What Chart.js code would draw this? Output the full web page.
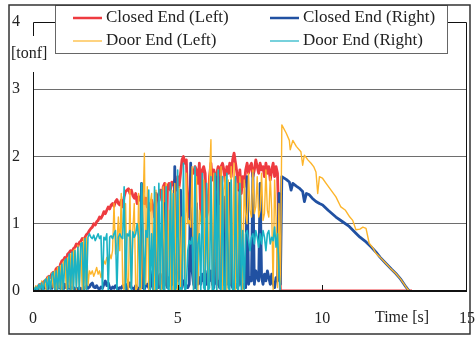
<!DOCTYPE html>
<html>
<head>
<meta charset="utf-8">
<script src="https://cdn.jsdelivr.net/npm/chart.js@4.4.1/dist/chart.umd.min.js"></script>
<style>
  html, body { margin: 0; padding: 0; background: #fff; }
  canvas { display: block; }
</style>
</head>
<body>
<canvas id="chart" width="476" height="338"></canvas>
<script>
const seriesNames = ['Closed End (Left)', 'Closed End (Right)', 'Door End (Left)', 'Door End (Right)'];
const xTickValues = [0, 5, 10, 15];
const yTickValues = [0, 1, 2, 3, 4];

const red = '#EE3B40';
const blue = '#2151A2';
const yellow = '#FDB52B';
const cyan = '#1BB3C4';

// sampled time [s] for the loading phase
const spikeTime = [
  0, 0.05, 0.1, 0.15, 0.2, 0.25, 0.3, 0.35, 0.4, 0.45, 0.5, 0.55, 0.6, 0.65, 0.7, 0.75, 0.8, 0.85, 0.9, 0.95,
  1, 1.05, 1.1, 1.15, 1.2, 1.25, 1.3, 1.35, 1.4, 1.45, 1.5, 1.55, 1.6, 1.65, 1.7, 1.75, 1.8, 1.85, 1.9, 1.95,
  2, 2.05, 2.1, 2.15, 2.2, 2.25, 2.3, 2.35, 2.4, 2.45, 2.5, 2.55, 2.6, 2.65, 2.7, 2.75, 2.8, 2.85, 2.9, 2.95,
  3, 3.05, 3.1, 3.15, 3.2, 3.25, 3.3, 3.35, 3.4, 3.45, 3.5, 3.55, 3.6, 3.65, 3.7, 3.75, 3.8, 3.85, 3.9, 3.95,
  4, 4.05, 4.1, 4.15, 4.2, 4.25, 4.3, 4.35, 4.4, 4.45, 4.5, 4.55, 4.6, 4.65, 4.7, 4.75, 4.8, 4.85, 4.9, 4.95,
  5, 5.05, 5.1, 5.15, 5.2, 5.25, 5.3, 5.35, 5.4, 5.45, 5.5, 5.55, 5.6, 5.65, 5.7, 5.75, 5.8, 5.85, 5.9, 5.95,
  6, 6.05, 6.1, 6.15, 6.2, 6.25, 6.3, 6.35, 6.4, 6.45, 6.5, 6.55, 6.6, 6.65, 6.7, 6.75, 6.8, 6.85, 6.9, 6.95,
  7, 7.05, 7.1, 7.15, 7.2, 7.25, 7.3, 7.35, 7.4, 7.45, 7.5, 7.55, 7.6, 7.65, 7.7, 7.75, 7.8, 7.85, 7.9, 7.95,
  8, 8.05, 8.1, 8.15, 8.2, 8.25, 8.3, 8.35, 8.4, 8.45, 8.5, 8.55
];

// [tonf]
const closedLeft = [
  0, 0.02, 0.04, 0.05, 0.08, 0.1, 0.09, 0.13, 0.15, 0.14, 0.2, 0.22, 0.2, 0.26, 0.28, 0.27, 0.33, 0.35, 0.3, 0.4,
  0.45, 0.46, 0.5, 0.48, 0.55, 0.57, 0.6, 0.58, 0.63, 0.65, 0.7, 0.66, 0.72, 0.74, 0.78, 0.76, 0.8, 0.84, 0.86, 0.9,
  0.93, 0.95, 1.0, 0.98, 1.03, 1.05, 1.1, 1.08, 1.12, 1.18, 1.15, 1.2, 1.25, 1.22, 1.28, 1.3, 1.26, 1.33, 1.36, 1.3,
  1.28, 1.35, 1.25, 1.4, 1.48, 1.5, 1.52, 1.45, 1.5, 1.42, 1.38, 1.45, 1.3, 1.4, 1.35, 1.45, 1.42, 1.3, 1.38, 1.25,
  1.3, 1.2, 1.35, 1.25, 1.1, 1.3, 1.4, 1.45, 1.5, 1.35, 1.55, 1.6, 0.3, 1.55, 1.6, 1.5, 1.62, 1.58, 1.65, 1.5,
  1.7, 1.55, 1.75, 1.95, 2.0, 1.9, 1.95, 1.2, 1.1, 1.7, 1.8, 1.75, 1.85, 1.8, 1.6, 1.9, 1.05, 1.8, 1.85, 1.75,
  1.1, 1.2, 1.7, 1.9, 1.65, 1.8, 1.5, 1.75, 1.85, 1.3, 1.85, 1.9, 1.8, 1.6, 1.85, 1.75, 1.9, 1.7, 1.95, 2.05,
  1.9, 1.75, 1.5, 1.8, 1.45, 1.7, 1.55, 1.8, 1.9, 1.75, 1.85, 1.9, 1.7, 1.8, 1.95, 1.85, 1.75, 1.9, 1.8, 1.85,
  1.7, 1.9, 1.75, 1.85, 1.65, 1.8, 1.9, 1.7, 1.85, 1.75, 0.9, 0
];
const closedRight = [
  0, 0.02, 0.03, 0.05, 0.02, 0.06, 0.04, 0.02, 0.08, 0.05, 0.03, 0.1, 0.05, 0.04, 0.12, 0.06, 0.03, 0.05, 0.08, 0.04,
  0.06, 0.03, 0.1, 0.05, 0.04, 0.08, 0.03, 0.06, 0.05, 0.02, 0.04, 0.03, 0.05, 0.02, 0.04, 0.03, 0.05, 0.08, 0.04, 0.06,
  0.1, 0.12, 0.06, 0.05, 0.08, 0.04, 0.03, 0.06, 0.04, 0.1, 0.15, 0.08, 0.12, 0.05, 0.03, 0.06, 0.04, 0.08, 0.05, 0.03,
  0.05, 0.04, 0.08, 0.05, 0.1, 0.03, 0.06, 0.12, 0.05, 0.04, 0.03, 0.08, 0.05, 0.02, 0.04, 1.6, 0.05, 0.03, 0.08, 0.1,
  0.05, 0.3, 0.1, 0.04, 0.2, 1.45, 0.15, 0.05, 0.25, 0.1, 0.05, 1.3, 0.1, 0.05, 0.2, 0.08, 0.1, 0.15, 1.85, 0.3,
  0.15, 0.2, 1.5, 0.05, 0.15, 0.1, 0.08, 0.05, 0.1, 1.9, 0.3, 0.1, 0.05, 1.3, 0.1, 0.2, 0.1, 0.25, 0.15, 0.3,
  0.1, 0.25, 0.15, 0.3, 0.1, 0.05, 1.7, 0.1, 0.15, 0.05, 1.7, 0.2, 0.1, 1.4, 0.1, 0.15, 1.6, 0.1, 0.05, 0.1,
  0.05, 0.1, 0.08, 1.5, 0.1, 0.05, 0.1, 0.05, 1.7, 0.1, 0.2, 0.15, 1.75, 0.1, 0.3, 0.2, 0.15, 1.6, 0.2, 0.1,
  0.25, 0.15, 0.3, 0.2, 0.1, 0.25, 0.1, 0.05, 0.2, 0.15, 1.45, 0.1
];
const doorLeft = [
  0, 0.03, 0.08, 0.02, 0.1, 0, 0.15, 0.03, 0.17, 0.02, 0.2, 0.22, 0.03, 0.27, 0.05, 0.3, 0.02, 0.35, 0.05, 0.38,
  0.02, 0.43, 0.46, 0.03, 0.5, 0.05, 0.55, 0, 0.6, 0.62, 0.02, 0.68, 0.05, 0.72, 0, 0.78, 0.03, 0.8, 0.08, 0.3,
  0.25, 0.3, 0.22, 0.28, 0.35, 0.25, 0.3, 0.2, 0.32, 0.45, 0.4, 0.5, 0.42, 0.55, 0.48, 0.6, 1.3, 0.55, 0.7, 1.1,
  0.6, 1.45, 0.1, 0, 1.3, 0.2, 0, 1.5, 0.05, 0.9, 1.3, 0, 0.05, 1.45, 0, 0.05, 1.2, 2.05, 0.1, 1.55,
  0, 1.3, 1.45, 0.05, 0, 1.5, 0, 1.35, 0.1, 0, 1.55, 0, 1.6, 0.05, 1.2, 0, 1.5, 0, 1.6, 0.05,
  0, 1.55, 0, 1.1, 1.0, 0, 1.75, 1.0, 1.05, 0.95, 1.85, 0, 1.1, 1.7, 0, 1.2, 1.05, 0.9, 1.65, 0,
  1.5, 0, 1.7, 2.25, 0, 1.75, 1.1, 0, 1.8, 0.05, 1.85, 0, 1.5, 1.7, 0, 1.65, 0.1, 1.85, 0, 1.9,
  0, 1.6, 0.05, 1.7, 1.2, 0, 1.65, 1.15, 1.0, 1.75, 1.2, 1.1, 1.8, 1.15, 1.25, 1.7, 1.1, 1.2, 1.75, 1.05,
  1.15, 1.8, 1.2, 1.1, 1.7, 1.2, 0, 1.65, 1.1, 0.05, 1.3, 0
];
const doorRight = [
  0, 0.02, 0.06, 0, 0.1, 0.03, 0.12, 0, 0.15, 0.18, 0.02, 0.22, 0, 0.25, 0.28, 0.02, 0.3, 0, 0.36, 0.02,
  0.4, 0, 0.45, 0.48, 0.02, 0.55, 0, 0.58, 0, 0.6, 0.05, 0.65, 0.02, 0.7, 0.72, 0, 0.78, 0.02, 0.8, 0.85,
  0.8, 0.78, 0.83, 0.75, 0.8, 0.85, 0.78, 0.82, 0, 0.8, 0.76, 0.85, 0.02, 0.8, 0.82, 0.78, 0.85, 0.9, 0, 0.8,
  0.85, 0.8, 0.78, 1.55, 0, 0.85, 0.82, 0.9, 0, 0.88, 0.8, 0.85, 1.0, 0.8, 0.05, 1.6, 0.85, 0, 0.9, 0.8,
  1.5, 0, 0.85, 0.02, 1.55, 0, 0.05, 1.6, 0, 1.5, 0.02, 0, 1.55, 0.05, 0, 1.6, 0.02, 1.45, 0, 0.05,
  1.8, 0, 0.05, 0.02, 1.9, 0, 0.05, 0.6, 0.75, 0.7, 0.8, 0.02, 1.85, 0, 0.7, 0.85, 0, 1.75, 0.05, 0,
  1.6, 0, 0.05, 1.7, 0, 0.02, 1.75, 0, 1.8, 0.05, 0, 1.7, 0.02, 0, 1.75, 0.05, 0, 1.65, 0.02, 0,
  1.7, 0.05, 0, 1.6, 0, 0.9, 0, 0.85, 0.9, 0.75, 0.6, 0.8, 0.85, 0.7, 0.9, 0.8, 0.65, 0.85, 0.7, 0.9,
  0.8, 0.6, 0.85, 0.9, 0.7, 0.8, 0.75, 0.95, 0.65, 0.85, 0.3, 0
];

// unloading phase
const closedLeftTailTime = [8.6, 13.1];
const closedLeftTail = [0, 0];
const doorRightTailTime = [8.6, 13.1];
const doorRightTail = [0, 0];
const closedRightTailTime = [8.6, 8.75, 8.86, 8.92, 8.98, 9.1, 9.2, 9.32, 9.38, 9.45, 9.55, 9.65, 9.78, 9.9, 10.01, 10.2,
  10.47, 10.7, 10.93, 11.16, 11.3, 11.51, 11.7, 11.85, 12.0, 12.2, 12.4, 12.54, 12.7, 12.89, 13.0];
const closedRightTail = [1.7, 1.66, 1.62, 1.5, 1.6, 1.56, 1.53, 1.48, 1.33, 1.45, 1.43, 1.38, 1.33, 1.3, 1.28, 1.2,
  1.1, 1.03, 0.96, 0.86, 0.8, 0.73, 0.65, 0.58, 0.5, 0.41, 0.32, 0.26, 0.18, 0.06, 0];
const doorLeftTailTime = [8.6, 8.75, 8.86, 8.89, 8.98, 9.1, 9.26, 9.32, 9.38, 9.5, 9.61, 9.7, 9.78, 9.84, 9.9, 10.0, 10.13,
  10.3, 10.47, 10.64, 10.8, 10.95, 11.05, 11.16, 11.3, 11.4, 11.51, 11.62, 11.75, 11.85, 12.0, 12.2, 12.35, 12.54, 12.7,
  12.89, 13.0, 13.1];
const doorLeftTail = [2.47, 2.35, 2.24, 2.1, 2.24, 2.15, 2.07, 1.87, 2.02, 1.95, 1.9, 1.85, 1.77, 1.45, 1.7, 1.68, 1.6,
  1.5, 1.4, 1.25, 1.2, 1.1, 1.05, 0.91, 0.92, 0.95, 0.93, 0.71, 0.64, 0.56, 0.5, 0.41, 0.34, 0.26, 0.18,
  0.06, 0, 0];

const serif = "'Liberation Serif', 'Times New Roman', serif";

function pts(times, values) {
  return times.map((t, i) => ({ x: t, y: values[i] }));
}

function series(label, color, width, order, head, tailTime, tail) {
  return {
    label: label,
    data: pts(spikeTime, head).concat(pts(tailTime, tail)),
    borderColor: color,
    backgroundColor: color,
    borderWidth: width,
    borderJoinStyle: 'round',
    pointRadius: 0,
    tension: 0,
    order: order,
  };
}

// axes frame, unit label, legend box and outer border
const frame = {
  id: 'frame',
  afterDraw(chart) {
    const { ctx, chartArea: a, scales: { x, y } } = chart;
    ctx.save();
    ctx.strokeStyle = '#111';
    ctx.lineWidth = 1;
    ctx.beginPath();
    ctx.moveTo(a.left + 0.5, a.bottom);
    ctx.lineTo(a.left + 0.5, a.top + 0.5);
    ctx.lineTo(a.right - 0.5, a.top + 0.5);
    ctx.lineTo(a.right - 0.5, a.bottom);
    ctx.stroke();

    const y0 = y.getPixelForValue(0);
    ctx.lineWidth = 2;
    ctx.beginPath();
    ctx.moveTo(a.left, y0);
    ctx.lineTo(a.right, y0);
    ctx.stroke();

    ctx.lineWidth = 1;
    ctx.beginPath();
    [5, 10].forEach(v => {
      const px = Math.round(x.getPixelForValue(v)) + 0.5;
      ctx.moveTo(px, y0);
      ctx.lineTo(px, y0 - 6);
    });
    ctx.stroke();

    ctx.font = '16px ' + serif;
    ctx.textBaseline = 'middle';
    ctx.fillStyle = '#fff';
    ctx.fillRect(10, 36, 40, 36);
    ctx.fillStyle = '#222';
    ctx.textAlign = 'left';
    ctx.fillText('[tonf]', 11, 54);
    ctx.textAlign = 'center';
    ctx.fillText('Time [s]', 402, 318);

    // legend
    ctx.fillStyle = '#fff';
    ctx.fillRect(55, 5, 392, 48);
    ctx.strokeStyle = '#666';
    ctx.strokeRect(55.5, 5.5, 392, 48);
    ctx.font = '17px ' + serif;
    const cols = [73, 270];
    const rows = [18, 41];
    chart.data.datasets.forEach((ds, i) => {
      const cx = cols[i % 2];
      const cy = rows[Math.floor(i / 2)];
      ctx.strokeStyle = ds.borderColor;
      ctx.lineWidth = i < 2 ? 2.5 : 1.2;
      ctx.beginPath();
      ctx.moveTo(cx, cy);
      ctx.lineTo(cx + 29, cy);
      ctx.stroke();
      ctx.fillStyle = '#222';
      ctx.textAlign = 'left';
      ctx.fillText(ds.label, cx + 33, cy);
    });

    ctx.strokeStyle = '#333';
    ctx.lineWidth = 1.5;
    ctx.strokeRect(9, 5, 461, 329);
    ctx.restore();
  }
};

new Chart(document.getElementById('chart'), {
  type: 'line',
  data: {
    datasets: [
      series(seriesNames[0], red, 2.8, 4, closedLeft, closedLeftTailTime, closedLeftTail),
      series(seriesNames[1], blue, 2.8, 3, closedRight, closedRightTailTime, closedRightTail),
      series(seriesNames[2], yellow, 1.4, 2, doorLeft, doorLeftTailTime, doorLeftTail),
      series(seriesNames[3], cyan, 1.6, 1, doorRight, doorRightTailTime, doorRightTail),
    ]
  },
  options: {
    responsive: false,
    animation: false,
    layout: { padding: { left: 12, top: 22, right: 9, bottom: 0 } },
    plugins: {
      legend: { display: false },
      tooltip: { enabled: false },
    },
    scales: {
      x: {
        type: 'linear',
        min: 0,
        max: 15,
        afterBuildTicks: s => { s.ticks = xTickValues.map(v => ({ value: v })); },
        afterFit: s => { s.height = 47; s.paddingLeft = 0; s.paddingRight = 0; },
        grid: { display: false },
        border: { display: false },
        ticks: {
          padding: 10,
          color: '#222',
          maxRotation: 0,
          font: { family: serif, size: 16 },
        },
      },
      y: {
        min: 0,
        max: 4,
        afterBuildTicks: s => { s.ticks = yTickValues.map(v => ({ value: v })); },
        afterFit: s => { s.width = 21; s.paddingTop = 0; s.paddingBottom = 0; },
        border: { display: false },
        grid: {
          drawTicks: false,
          lineWidth: 1,
          color: c => (c.tick.value > 0 && c.tick.value < 4) ? '#6e6e6e' : 'rgba(0,0,0,0)',
        },
        ticks: {
          crossAlign: 'far',
          padding: 0,
          color: '#222',
          font: { family: serif, size: 16 },
        },
      },
    },
  },
  plugins: [frame],
});
</script>
</body>
</html>
